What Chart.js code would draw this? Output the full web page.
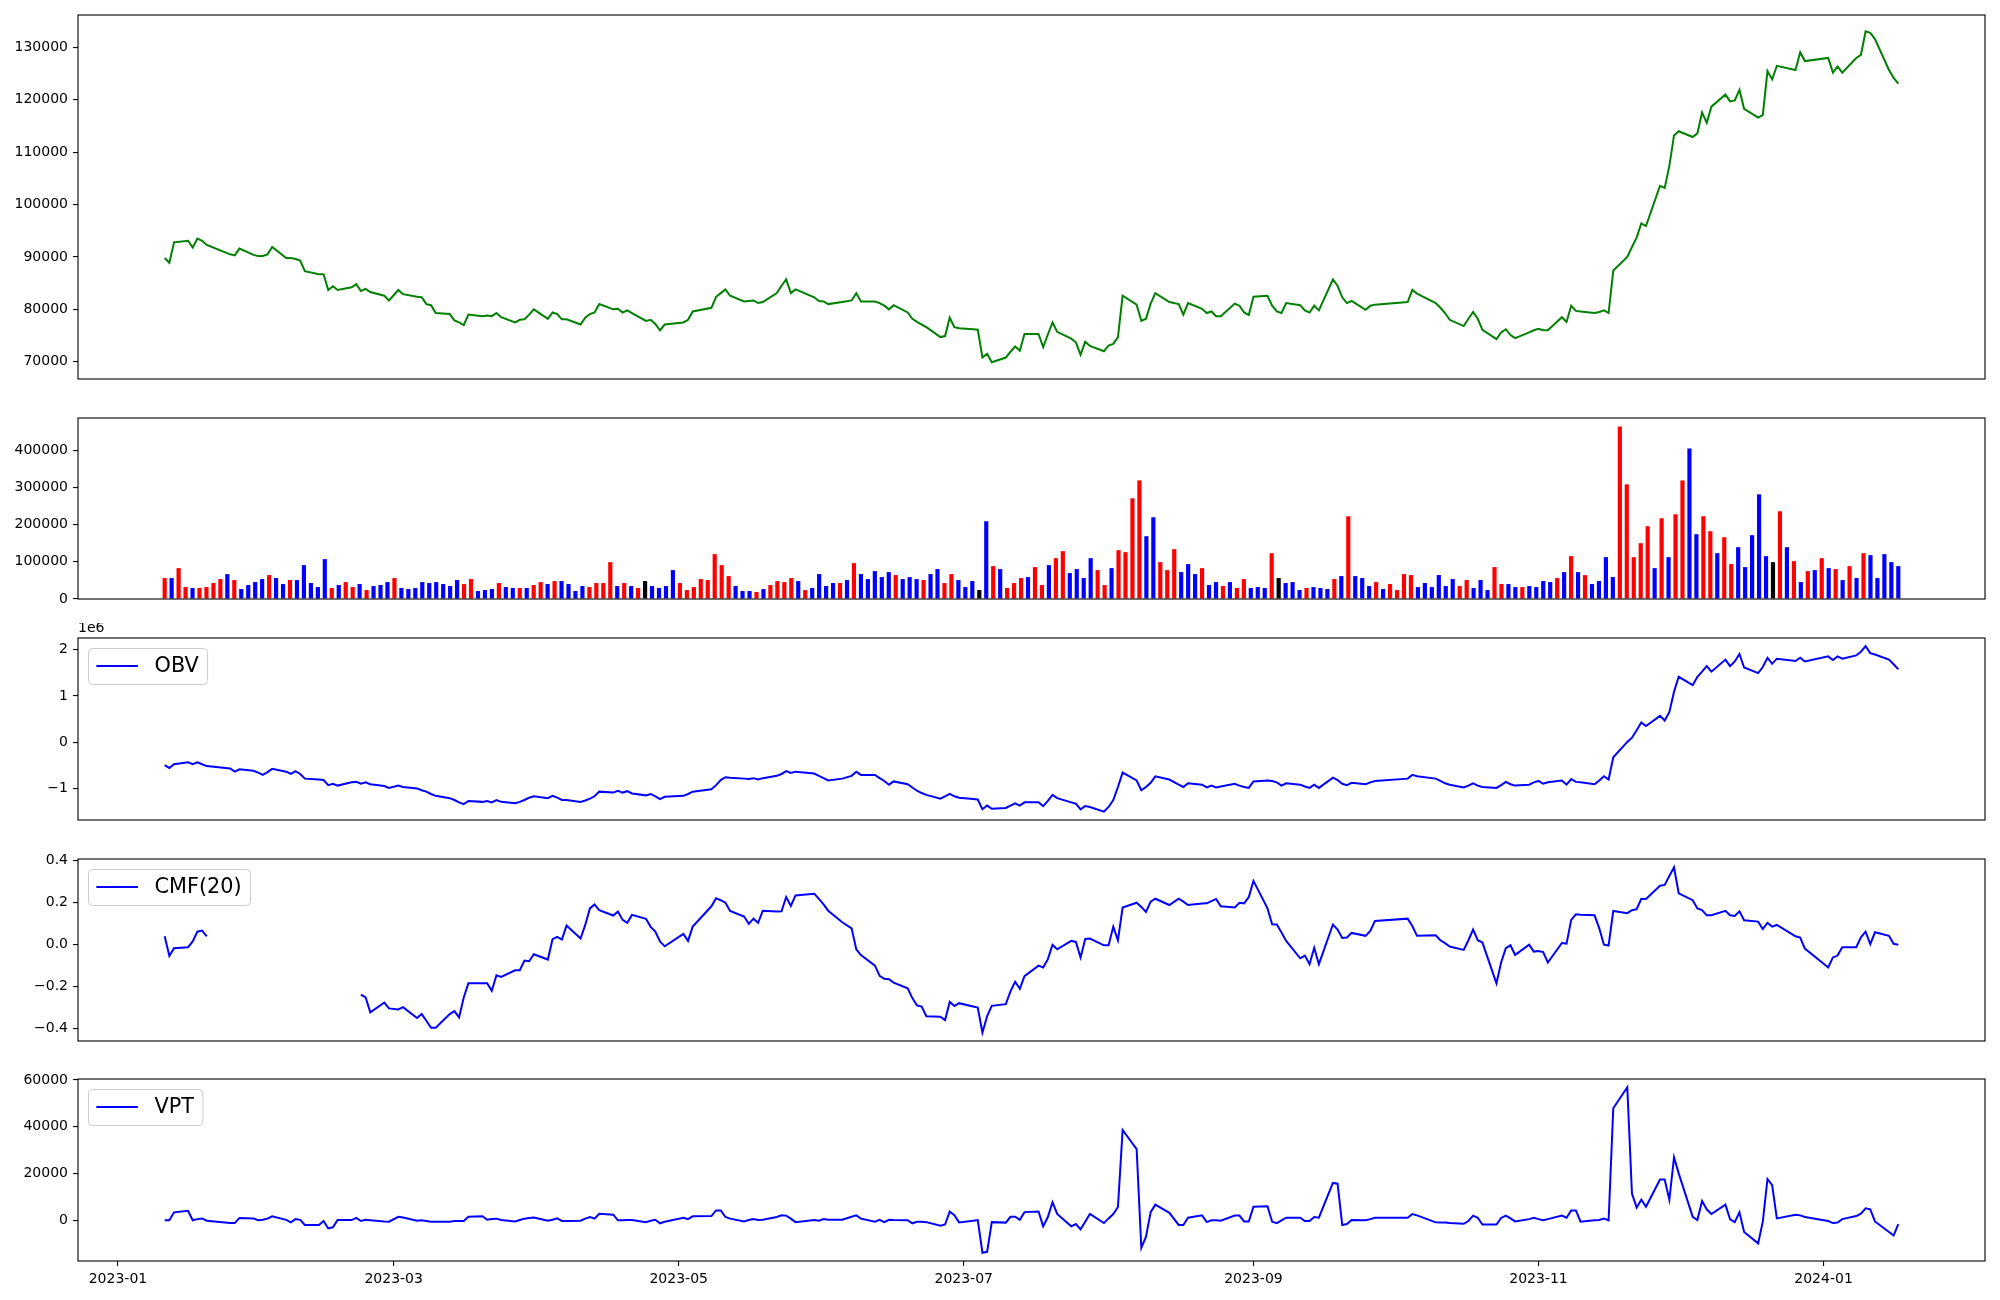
<!DOCTYPE html>
<html>
<head>
<meta charset="utf-8">
<script src="https://cdn.jsdelivr.net/npm/chart.js@4.4.1/dist/chart.umd.min.js"></script>
<style>
  html, body { margin: 0; padding: 0; background: #fff; }
  #wrap { position: relative; width: 2000px; height: 1300px; }
  .panel { position: absolute; left: 0; width: 2000px; }
</style>
</head>
<body>
<div id="wrap">
  <div class="panel" id="p0"><canvas id="c0"></canvas></div>
  <div class="panel" id="p1"><canvas id="c1"></canvas></div>
  <div class="panel" id="p2"><canvas id="c2"></canvas></div>
  <div class="panel" id="p3"><canvas id="c3"></canvas></div>
  <div class="panel" id="p4"><canvas id="c4"></canvas></div>
</div>
<script>
// trading calendar (KRX), 2023-01-11 .. 2024-01-17
const START_DATE = '2023-01-11';
const END_DATE = '2024-01-17';
const HOLIDAYS = ['2023-01-23', '2023-01-24', '2023-03-01', '2023-05-01', '2023-05-05',
  '2023-05-29', '2023-06-06', '2023-08-15', '2023-09-28', '2023-09-29', '2023-10-02',
  '2023-10-03', '2023-10-09', '2023-12-25', '2023-12-29', '2024-01-01'];

const xTickDates = ['2023-01-01', '2023-03-01', '2023-05-01', '2023-07-01', '2023-09-01', '2023-11-01', '2024-01-01'];
const xTickLabels = ['2023-01', '2023-03', '2023-05', '2023-07', '2023-09', '2023-11', '2024-01'];

// closing price, one row per month
const close = [
  89800, 88900, 92800, 93100, 91800, 93500, 93100, 92300, 90500, 90300, 91600, 90400, 90200,
  90200, 90500, 91900, 89800, 89800, 89600, 89300, 87300, 86700, 86700, 83700, 84400, 83700, 84200, 84800, 83500, 83900, 83300, 82600, 81700,
  83700, 82900, 82400, 82300, 81000, 80800, 79300, 79100, 77900, 77500, 77000, 79000, 78700, 78800, 78700, 79300, 78500, 77500, 78000, 78100, 79000, 80000,
  78200, 79400, 79100, 78100, 78100, 77100, 78400, 79100, 79400, 81000, 80000, 80100, 79400, 79800, 79300, 77800, 78000, 77200, 76000, 77100,
  77500, 78000, 79600, 80300, 82400, 83100, 83800, 82600, 81500, 81600, 81700, 81200, 81400, 83100, 84500, 85700, 83100, 83800, 82300, 81600,
  81500, 81000, 81400, 81700, 83100, 81500, 81500, 81200, 80700, 80000, 80800, 79400, 78200, 77600, 77100, 76600, 74700, 74900, 78400, 76600, 76400,
  76200, 76100, 70800, 71500, 69900, 70800, 71900, 72900, 72100, 75300, 75300, 72800, 75200, 77500, 75700, 74400, 73700, 71300, 73800, 73000, 72000,
  73100, 73400, 74700, 82600, 80900, 77800, 78200, 81100, 83100, 81400, 81000, 79000, 81200, 80100, 79300, 79600, 78700, 78700, 81100, 80700, 79400, 78900,
  82400, 82600, 80700, 79600, 79300, 81200, 80800, 79800, 79400, 80700, 79800, 85700, 84500, 82300, 81200, 81600, 79900, 80700, 80900,
  81400, 83700, 83000, 81200, 80300, 79300, 78000, 76800, 78200, 79500, 78200, 76100, 74300, 75600, 76200, 75100, 74500, 75600, 76000,
  76300, 76000, 76000, 78500, 77600, 80700, 79700, 79600, 79300, 79500, 79800, 79300, 87400, 90000, 91900, 93700, 96400, 95900, 103600, 103200, 107400, 113200,
  114000, 112900, 113600, 117600, 115600, 118700, 121000, 119700, 119900, 121900, 118300, 116600, 117100, 125500, 123900, 126500, 125700, 129100, 127400,
  128000, 125200, 126400, 125200, 128000, 128600, 133100, 132800, 131600, 125700, 124200, 123100
];

const volume = [
  56300, 56300, 83000, 32100, 29500, 29500, 32100, 42900, 53600, 67000,
  50900, 26800, 37500, 45500, 53600, 64300, 56300, 40200, 50900, 50900,
  91100, 42900, 32100, 107200, 29500, 37500, 45500, 32100, 40200, 24100,
  34800, 37500, 45500, 56300, 29500, 26800, 29500, 45500, 42900, 45500,
  40200, 34800, 50900, 40200, 53600, 21400, 24100, 26800, 42900, 32100,
  29500, 29500, 29500, 37500, 45500, 40200, 48200, 48200, 40200, 21400,
  34800, 32100, 42900, 42900, 99100, 34800, 42900, 34800, 29500, 48200,
  34800, 29500, 34800, 77700, 42900, 24100, 32100, 53600, 50900, 120600,
  91100, 61600, 34800,
  21400, 21400, 18800, 26800, 37500, 48200, 45500, 56300, 48200, 24100,
  29500, 67000, 34800, 42900, 42900, 50900, 96400, 67000, 53600, 75000,
  58900, 72300, 64300, 53600, 58900, 53600, 50900, 67000, 80400, 42900,
  67000, 50900, 32100, 48200, 24100, 209000, 88400, 80400, 29500, 42900,
  56300, 58900, 85700, 37500, 91100, 109800, 128600, 69700, 80400, 56300,
  109800, 77700, 37500, 83000, 131300, 125900, 270600, 318800, 168800, 219700,
  99100, 77700, 134000, 72300, 93800, 67000, 83000, 37500, 45500, 34800,
  45500, 29500, 53600, 29500, 32100, 29500, 123200, 56300, 42900, 45500,
  24100, 29500, 32100, 29500, 26800, 53600, 61600, 222400, 61600, 56300,
  34800, 45500, 26800, 40200,
  24100, 67000, 64300, 32100, 42900, 32100, 64300, 34800, 53600, 34800,
  50900, 29500, 50900, 24100, 85700, 40200, 40200, 32100, 32100, 34800,
  32100, 48200, 45500, 56300, 72300, 115200, 72300, 64300, 40200, 48200,
  112500, 58900, 463500, 308100, 112500, 150000, 195600, 83000, 217000, 112500,
  227700, 318800, 404500, 174100, 222400, 182200, 123200, 166100, 93800, 139300,
  85700, 171500, 281300, 115200, 99100, 235800, 139300, 101800, 45500, 75000,
  77700, 109800, 83000, 80400, 50900, 88400, 56300, 123200, 117900, 56300,
  120600, 99100, 88400
];

// bar colour per day: r = red, b = blue, k = black
const barDir = (
  'rbrrbrrrrb' + 'rbbbbrbbrb' + 'bbbbrbrrbr' + 'bbbrbbbbbb' + 'bbbrrbbbrb' +
  'brbrrbrbbb' + 'brrrrbrbrk' + 'bbbbrrrrrr' + 'rrb' +
  'bbrbrrrrbr' + 'bbbbrbrbbb' + 'bbrbbbrbbr' + 'rbbbkbrbrr' + 'rbrrbrrbbb' +
  'brrbrrrrbb' + 'rrrbbbrbbr' + 'brrbbbrkbb' + 'brbbbrbrbb' + 'brbr' +
  'rrrbbbbbbr' + 'rbbbrrbbrb' + 'bbbrbrbrbb' + 'bbrrrrrbrb' + 'rrbbrrbrrb' +
  'bbbbkrbrbr' + 'brbrbrbrbb' + 'bbb'
).split('');

// OBV in millions
const obv = [
  -0.49, -0.55, -0.47, -0.43, -0.47, -0.43, -0.47, -0.51, -0.56, -0.63, -0.58, -0.61, -0.65,
  -0.70, -0.64, -0.57, -0.63, -0.68, -0.62, -0.68, -0.78, -0.80, -0.81, -0.92, -0.89, -0.93, -0.86, -0.85, -0.89, -0.86, -0.90, -0.94, -0.98,
  -0.93, -0.96, -0.99, -1.03, -1.06, -1.11, -1.15, -1.20, -1.24, -1.29, -1.33, -1.26, -1.28, -1.26, -1.29, -1.24, -1.28, -1.31, -1.28, -1.24, -1.19, -1.16,
  -1.20, -1.15, -1.19, -1.24, -1.24, -1.28, -1.25, -1.21, -1.16, -1.06, -1.08, -1.04, -1.08, -1.05, -1.10, -1.14, -1.11, -1.16, -1.22, -1.17,
  -1.15, -1.11, -1.06, -1.01, -0.92, -0.81, -0.75, -0.76, -0.78, -0.79, -0.77, -0.80, -0.77, -0.72, -0.68, -0.62, -0.66, -0.63, -0.67, -0.72,
  -0.77, -0.82, -0.78, -0.72, -0.63, -0.70, -0.70, -0.77, -0.83, -0.91, -0.84, -0.90, -0.97, -1.04, -1.09, -1.13, -1.21, -1.16, -1.11, -1.16, -1.19,
  -1.22, -1.23, -1.44, -1.36, -1.43, -1.41, -1.36, -1.31, -1.36, -1.29, -1.29, -1.37, -1.26, -1.13, -1.20, -1.29, -1.32, -1.44, -1.37, -1.39, -1.49,
  -1.39, -1.24, -0.96, -0.65, -0.82, -1.03, -0.96, -0.87, -0.73, -0.80, -0.91, -0.96, -0.88, -0.91, -0.97, -0.93, -0.97, -0.95, -0.89, -0.93, -0.96, -0.98,
  -0.84, -0.82, -0.83, -0.86, -0.93, -0.88, -0.91, -0.95, -0.98, -0.91, -0.98, -0.76, -0.81, -0.89, -0.92, -0.87, -0.90, -0.86, -0.83,
  -0.78, -0.70, -0.73, -0.78, -0.83, -0.88, -0.91, -0.97, -0.93, -0.88, -0.93, -0.96, -0.98, -0.92, -0.85, -0.90, -0.93, -0.91, -0.86,
  -0.83, -0.89, -0.86, -0.82, -0.91, -0.79, -0.85, -0.86, -0.90, -0.82, -0.73, -0.80, -0.32, 0.01, 0.10, 0.26, 0.43, 0.35, 0.57, 0.47, 0.65, 1.09,
  1.41, 1.23, 1.41, 1.52, 1.64, 1.52, 1.78, 1.64, 1.74, 1.90, 1.61, 1.49, 1.62, 1.82, 1.69, 1.80, 1.75, 1.82, 1.74,
  1.85, 1.77, 1.85, 1.80, 1.87, 1.95, 2.07, 1.92, 1.89, 1.78, 1.68, 1.57
];

const cmf = [
  0.038, -0.056, -0.019, -0.014, 0.013, 0.060, 0.065, 0.038, null, null, null, null, null,
  null, null, null, null, null, null, null, null, null, null, null, null, null, null, null, -0.240, -0.254, -0.325, -0.278, -0.306,
  -0.311, -0.300, -0.352, -0.333, -0.365, -0.398, -0.398, -0.333, -0.319, -0.349, -0.254, -0.186, -0.186, -0.186, -0.222, -0.148, -0.156, -0.124, -0.124, -0.078, -0.081, -0.048,
  -0.073, 0.024, 0.035, 0.022, 0.089, 0.027, 0.092, 0.171, 0.190, 0.162, 0.137, 0.156, 0.116, 0.102, 0.140, 0.121, 0.083, 0.060, 0.013, -0.010,
  0.049, 0.016, 0.084, 0.181, 0.219, 0.210, 0.198, 0.159, 0.132, 0.097, 0.122, 0.102, 0.160, 0.156, 0.157, 0.225, 0.183, 0.233, 0.241, 0.216,
  0.190, 0.160, 0.105, 0.076, -0.024, -0.052, -0.102, -0.151, -0.165, -0.167, -0.183, -0.210, -0.257, -0.292, -0.297, -0.343, -0.346, -0.362, -0.275, -0.295, -0.281,
  -0.297, -0.302, -0.422, -0.343, -0.294, -0.286, -0.225, -0.179, -0.213, -0.152, -0.102, -0.111, -0.071, -0.003, -0.024, 0.016, 0.011, -0.063, 0.025, 0.027, -0.005,
  -0.005, 0.083, 0.019, 0.175, 0.198, 0.178, 0.154, 0.203, 0.217, 0.187, 0.217, 0.203, 0.187, 0.194, 0.195, 0.206, 0.216, 0.181, 0.175, 0.198, 0.195, 0.225,
  0.302, 0.171, 0.095, 0.094, 0.056, 0.016, -0.067, -0.054, -0.095, -0.017, -0.095, 0.094, 0.070, 0.030, 0.032, 0.054, 0.040, 0.063, 0.111,
  0.122, 0.087, 0.040, 0.043, 0.019, 0.005, -0.011, -0.027, 0.019, 0.070, 0.019, 0.008, -0.186, -0.087, -0.019, -0.005, -0.051, -0.002, -0.035,
  -0.032, -0.037, -0.087, 0.006, 0.003, 0.116, 0.143, 0.141, 0.138, 0.076, -0.002, -0.006, 0.159, 0.148, 0.162, 0.167, 0.217, 0.216, 0.279, 0.283, 0.325, 0.367,
  0.243, 0.210, 0.171, 0.163, 0.138, 0.138, 0.159, 0.138, 0.135, 0.157, 0.114, 0.108, 0.073, 0.102, 0.084, 0.092, 0.038, 0.032, -0.021,
  -0.111, -0.063, -0.054, -0.014, -0.014, 0.033, 0.060, 0.000, 0.057, 0.040, 0.002, -0.002
];

const vpt = [
  -100, -100, 3300, 4000, -100, 400, 700, -300, -1300, -1300, 900, 700, -100,
  100, 600, 1600, 100, -1000, 400, 100, -2100, -2100, -400, -3600, -3100, 0, 0, 900, -400, 100, -100, -600, -700,
  1400, 1100, -300, -100, -400, -700, -700, -700, -400, -400, -400, 1400, 1600, 100, 400, 600, 0, -600, 0, 600, 900, 1100,
  -300, 100, 700, -400, -400, -300, 600, 1300, 600, 2700, 2300, -100, -100, 0, 0, -900, -300, 100, -1400, -700,
  1000, 400, 1600, 1700, 4100, 4100, 1300, 600, -600, 0, 400, 0, 100, 1300, 2000, 1900, 600, -900, 0, -300,
  400, 100, 100, 1400, 2000, 600, -700, 100, -900, 100, 0, -100, -1400, -700, -700, -900, -2400, -1900, 3600, 2100, -1000,
  -300, 0, -14000, -13600, -900, -1100, 1400, 1400, 100, 3400, 3700, -2700, 1300, 7600, 2600, -2700, -1700, -4000, -700, 2600, -1300,
  700, 2600, 5600, 38600, 30400, -11900, -7100, 3400, 6600, 3100, -2100, -2100, 1000, 2000, -900, -100, -100, -300, 1900, 1900, -600, -600,
  5700, 5900, -700, -1300, -100, 1000, 1000, -400, -400, 1300, 1000, 15900, 15600, -2100, -1700, 0, -100, 400, 1000,
  1000, 2600, 2000, -1000, -1100, -1100, -1300, -1600, -400, 1900, 1000, -1900, -1900, 900, 1900, 700, -600, 400, 1000,
  400, -100, 400, 1900, 1000, 4100, 4100, -700, -100, 0, 600, -100, 47900, 56900, 11300, 5300, 8700, 5700, 17400, 17400, 8700, 26900,
  20000, 1400, 0, 8200, 4600, 2600, 6600, 300, -900, 3300, -5100, -10000, -700, 17600, 15000, 700, 2300, 2000, 1300,
  -400, -1300, -1100, 400, 1700, 2700, 5000, 4600, -600, -5100, -6600, -1700
];

// ---- helpers ----
const DAY = 86400000;
const BASE = Date.UTC(2023, 0, 1);
const toDay = (iso) => (Date.parse(iso + 'T00:00:00Z') - BASE) / DAY;

const tradeDays = [];
for (let t = Date.parse(START_DATE + 'T00:00:00Z'); t <= Date.parse(END_DATE + 'T00:00:00Z'); t += DAY) {
  const d = new Date(t);
  const wd = d.getUTCDay();
  if (wd === 0 || wd === 6 || HOLIDAYS.includes(d.toISOString().slice(0, 10))) continue;
  tradeDays.push((t - BASE) / DAY);
}

const pts = (arr) => arr.map((v, i) => ({ x: tradeDays[i], y: v }));
const xTicks = xTickDates.map(toDay);

// matplotlib-like 5% margins on the date axis
const span = tradeDays[tradeDays.length - 1] - tradeDays[0];
const X_MIN = tradeDays[0] - 0.05 * span;
const X_MAX = tradeDays[tradeDays.length - 1] + 0.05 * span;

const FONT = '"DejaVu Sans", "Liberation Sans", sans-serif';
const MINUS = '\u2212';
const fmtMinus = (s) => s.replace('-', MINUS);

Chart.defaults.font.family = FONT;
Chart.defaults.color = '#000';
Chart.defaults.animation = false;

// axes box drawn like matplotlib spines
const frame = {
  id: 'frame',
  afterDraw(chart) {
    const { ctx, chartArea: a } = chart;
    ctx.save();
    ctx.strokeStyle = '#000';
    ctx.lineWidth = 1.1;
    ctx.strokeRect(a.left, a.top, a.right - a.left, a.bottom - a.top);
    ctx.restore();
  }
};

function legendBox(label) {
  return {
    id: 'legendBox',
    afterDraw(chart) {
      const { ctx, chartArea: a } = chart;
      const fs = 20.8;
      ctx.save();
      ctx.font = fs + 'px ' + FONT;
      const tw = ctx.measureText(label).width;
      const x = a.left + 10, y = a.top + 10;
      const w = fs * 0.8 + fs * 2 + fs * 0.8 + tw, h = 36;
      ctx.beginPath();
      ctx.roundRect(x + 0.5, y + 0.5, w, h, 4);
      ctx.fillStyle = 'rgba(255,255,255,0.8)';
      ctx.fill();
      ctx.strokeStyle = '#cccccc';
      ctx.lineWidth = 1;
      ctx.stroke();
      const cy = y + h / 2;
      ctx.beginPath();
      ctx.moveTo(x + fs * 0.4, cy);
      ctx.lineTo(x + fs * 2.4, cy);
      ctx.strokeStyle = '#0000ff';
      ctx.lineWidth = 2;
      ctx.stroke();
      ctx.fillStyle = '#000';
      ctx.textBaseline = 'middle';
      ctx.fillText(label, x + fs * 3.2, cy + 1);
      ctx.restore();
    }
  };
}

const offsetText = {
  id: 'offsetText',
  afterDraw(chart) {
    const { ctx, chartArea: a } = chart;
    ctx.save();
    ctx.font = '14px ' + FONT;
    ctx.fillStyle = '#000';
    ctx.textBaseline = 'bottom';
    ctx.fillText('1e6', a.left, a.top - 3);
    ctx.restore();
  }
};

function yAxis(min, max, ticks, fmt) {
  return {
    min, max,
    afterFit: (s) => { s.width = 78; },
    afterBuildTicks: (s) => { s.ticks = ticks.map((v) => ({ value: v })); },
    grid: { drawOnChartArea: false, drawTicks: true, tickLength: 5, color: '#000', lineWidth: 1.1 },
    border: { display: false },
    ticks: { font: { size: 14 }, color: '#000', padding: 5, callback: fmt }
  };
}

function dateAxis(show) {
  return {
    type: 'linear', min: X_MIN, max: X_MAX, display: show,
    afterFit: (s) => { if (show) s.height = 39; },
    afterBuildTicks: (s) => { s.ticks = xTicks.map((v) => ({ value: v })); },
    grid: { drawOnChartArea: false, drawTicks: true, tickLength: 5, color: '#000', lineWidth: 1.1 },
    border: { display: false },
    ticks: {
      font: { size: 14 }, color: '#000', padding: 5, maxRotation: 0, autoSkip: false,
      callback: (v) => xTickLabels[xTicks.indexOf(v)] || ''
    }
  };
}

// axes rectangles in page pixels: [top, bottom]
const PANELS = [[15, 379], [418, 599], [638, 820], [859, 1041], [1079, 1261]];
const PAD = 15;
PANELS.forEach(([top, bottom], i) => {
  const el = document.getElementById('p' + i);
  el.style.top = (top - PAD) + 'px';
  el.style.height = (i === 4 ? 1300 - (top - PAD) : bottom - top + 2 * PAD) + 'px';
});

const baseOpts = (last) => ({
  responsive: true,
  maintainAspectRatio: false,
  layout: { padding: { left: 0, right: 15, top: PAD, bottom: last ? 0 : PAD } },
  plugins: { legend: { display: false }, tooltip: { enabled: false } },
  elements: { point: { radius: 0 }, line: { tension: 0 } }
});

function lineDataset(data, color) {
  return { data: pts(data), borderColor: color, borderWidth: 2, pointRadius: 0, fill: false, spanGaps: false };
}

// price
new Chart(document.getElementById('c0'), {
  type: 'line',
  data: { datasets: [lineDataset(close, '#008000')] },
  options: {
    ...baseOpts(false),
    scales: {
      x: dateAxis(false),
      y: yAxis(66700, 136200, [70000, 80000, 90000, 100000, 110000, 120000, 130000], (v) => String(v))
    }
  },
  plugins: [frame]
});

// volume, one bar per trading day on an index axis
const colorMap = { r: '#ff0000', b: '#0000ff', k: '#000000' };
const nBars = volume.length;
const V_MIN = -0.05 * (nBars - 1);
const V_MAX = (nBars - 1) * 1.05;
new Chart(document.getElementById('c1'), {
  type: 'bar',
  data: {
    datasets: [{
      data: volume.map((v, i) => ({ x: i, y: v })),
      backgroundColor: barDir.map((c) => colorMap[c]),
      borderWidth: 0,
      barPercentage: 0.6,
      categoryPercentage: 1.0
    }]
  },
  options: {
    ...baseOpts(false),
    scales: {
      x: { type: 'linear', min: V_MIN, max: V_MAX, offset: false, bounds: 'data', display: false },
      y: yAxis(0, 486500, [0, 100000, 200000, 300000, 400000], (v) => String(v))
    }
  },
  plugins: [frame]
});

// OBV
new Chart(document.getElementById('c2'), {
  type: 'line',
  data: { datasets: [lineDataset(obv, '#0000ff')] },
  options: {
    ...baseOpts(false),
    scales: {
      x: dateAxis(false),
      y: yAxis(-1.67, 2.245, [-1, 0, 1, 2], (v) => fmtMinus(String(v)))
    }
  },
  plugins: [frame, legendBox('OBV'), offsetText]
});

// CMF(20)
new Chart(document.getElementById('c3'), {
  type: 'line',
  data: { datasets: [lineDataset(cmf, '#0000ff')] },
  options: {
    ...baseOpts(false),
    scales: {
      x: dateAxis(false),
      y: yAxis(-0.4615, 0.4065, [-0.4, -0.2, 0, 0.2, 0.4], (v) => fmtMinus(v.toFixed(1)))
    }
  },
  plugins: [frame, legendBox('CMF(20)')]
});

// VPT
new Chart(document.getElementById('c4'), {
  type: 'line',
  data: { datasets: [lineDataset(vpt, '#0000ff')] },
  options: {
    ...baseOpts(true),
    scales: {
      x: dateAxis(true),
      y: yAxis(-17550, 60450, [0, 20000, 40000, 60000], (v) => String(v))
    }
  },
  plugins: [frame, legendBox('VPT')]
});
</script>
</body>
</html>
